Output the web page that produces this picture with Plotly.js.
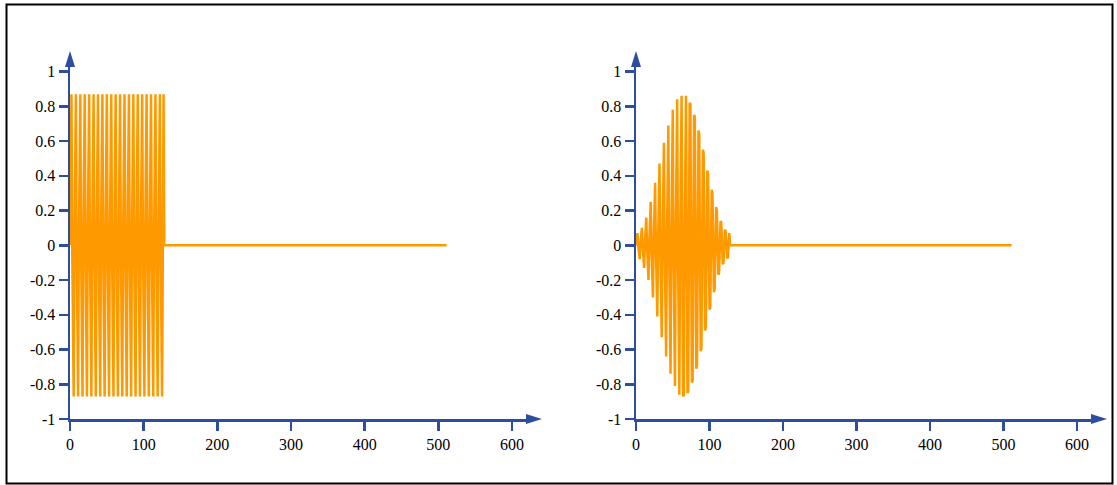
<!DOCTYPE html>
<html>
<head>
<meta charset="utf-8">
<script src="https://cdn.plot.ly/plotly-3.0.1.min.js"></script>
<style>html,body{margin:0;padding:0;background:#fff;}#chart{width:1117px;height:485px;}</style>
</head>
<body>
<div id="chart"></div>
<script>
// Sample values (n = 0..127)
const rectBurst = [
  0, 0.87, 0.87, 0, -0.87, -0.87, 0, 0.87, 0.87, 0, -0.87, -0.87,
  0, 0.87, 0.87, 0, -0.87, -0.87, 0, 0.87, 0.87, 0, -0.87, -0.87,
  0, 0.87, 0.87, 0, -0.87, -0.87, 0, 0.87, 0.87, 0, -0.87, -0.87,
  0, 0.87, 0.87, 0, -0.87, -0.87, 0, 0.87, 0.87, 0, -0.87, -0.87,
  0, 0.87, 0.87, 0, -0.87, -0.87, 0, 0.87, 0.87, 0, -0.87, -0.87,
  0, 0.87, 0.87, 0, -0.87, -0.87, 0, 0.87, 0.87, 0, -0.87, -0.87,
  0, 0.87, 0.87, 0, -0.87, -0.87, 0, 0.87, 0.87, 0, -0.87, -0.87,
  0, 0.87, 0.87, 0, -0.87, -0.87, 0, 0.87, 0.87, 0, -0.87, -0.87,
  0, 0.87, 0.87, 0, -0.87, -0.87, 0, 0.87, 0.87, 0, -0.87, -0.87,
  0, 0.87, 0.87, 0, -0.87, -0.87, 0, 0.87, 0.87, 0, -0.87, -0.87,
  0, 0.87, 0.87, 0, -0.87, -0.87, 0, 0.87
];
const windowedBurst = [
  0, 0.07, 0.07, 0, -0.08, -0.08, 0, 0.09, 0.10, 0, -0.12, -0.13,
  0, 0.15, 0.16, 0, -0.19, -0.20, 0, 0.23, 0.25, 0, -0.28, -0.30,
  0, 0.34, 0.36, 0, -0.39, -0.41, 0, 0.45, 0.47, 0, -0.51, -0.53,
  0, 0.57, 0.59, 0, -0.63, -0.64, 0, 0.68, 0.69, 0, -0.73, -0.74,
  0, 0.77, 0.78, 0, -0.80, -0.81, 0, 0.83, 0.84, 0, -0.85, -0.86,
  0, 0.86, 0.86, 0, -0.87, -0.86, 0, 0.86, 0.86, 0, -0.85, -0.84,
  0, 0.82, 0.81, 0, -0.79, -0.78, 0, 0.75, 0.74, 0, -0.71, -0.69,
  0, 0.66, 0.64, 0, -0.61, -0.59, 0, 0.55, 0.53, 0, -0.49, -0.47,
  0, 0.43, 0.41, 0, -0.37, -0.36, 0, 0.32, 0.30, 0, -0.27, -0.25,
  0, 0.22, 0.20, 0, -0.17, -0.16, 0, 0.14, 0.13, 0, -0.11, -0.10,
  0, 0.09, 0.08, 0, -0.07, -0.07, 0, 0.07
];
// zero tail after the burst
const tailX = [128, 511];
const tailY = [0, 0];

const xTicks = [0, 100, 200, 300, 400, 500, 600];
const yTickVals = [-1, -0.8, -0.6, -0.4, -0.2, 0, 0.2, 0.4, 0.6, 0.8, 1];
const yTickText = ['-1', '-0.8', '-0.6', '-0.4', '-0.2', '0', '0.2', '0.4', '0.6', '0.8', '1'];

function series(vals) {
  const x = vals.map((_, i) => i).concat(tailX);
  const y = vals.concat(tailY);
  return {x, y};
}

const orange = '#FF9900';
const axisColor = '#2D4E9C';
const tickFont = {family: '"Liberation Serif", "Times New Roman", Times, serif', size: 16, color: '#000'};
const s1 = series(rectBurst);
const s2 = series(windowedBurst);

const traces = [
  {x: s1.x, y: s1.y, type: 'scatter', mode: 'lines', line: {color: orange, width: 2.5}, xaxis: 'x', yaxis: 'y', hoverinfo: 'none'},
  {x: s2.x, y: s2.y, type: 'scatter', mode: 'lines', line: {color: orange, width: 2.5}, xaxis: 'x2', yaxis: 'y2', hoverinfo: 'none'}
];

const W = 1117, H = 485;
const xMax = 620.3, yMax = 1.032;
const plotTop = 66, plotBottom = 419;
function xAxis(d) {
  return {domain: d, range: [0, xMax], tickvals: xTicks, ticktext: xTicks.map(String),
    showline: true, linecolor: axisColor, linewidth: 2.5, ticks: 'outside', ticklen: 9, tickwidth: 2.5,
    tickcolor: axisColor, showgrid: false, zeroline: false, fixedrange: true, tickfont: tickFont};
}
function yAxis(anchor) {
  return {domain: [1 - plotBottom / H, 1 - plotTop / H], range: [-1, yMax], anchor: anchor, tickvals: yTickVals, ticktext: yTickText,
    showline: true, linecolor: axisColor, linewidth: 2.5, ticks: 'outside', ticklen: 9, tickwidth: 2.5,
    tickcolor: axisColor, showgrid: false, zeroline: false, fixedrange: true, tickfont: tickFont};
}
// arrowheads at the ends of each axis line (paper coordinates, pixel-sized)
function arrows(left, right) {
  return [
    {type: 'path', xref: 'paper', yref: 'paper', xsizemode: 'pixel', ysizemode: 'pixel',
      xanchor: right / W, yanchor: 1 - plotBottom / H,
      path: 'M-1,5 L15,0 L-1,-5 Z', fillcolor: axisColor, line: {width: 0}},
    {type: 'path', xref: 'paper', yref: 'paper', xsizemode: 'pixel', ysizemode: 'pixel',
      xanchor: left / W, yanchor: 1 - plotTop / H,
      path: 'M-5,-1 L0,15 L5,-1 Z', fillcolor: axisColor, line: {width: 0}}
  ];
}

const layout = {
  width: W, height: H,
  margin: {l: 0, r: 0, t: 0, b: 0},
  paper_bgcolor: '#fff', plot_bgcolor: 'rgba(0,0,0,0)',
  showlegend: false,
  xaxis: xAxis([70 / W, 527 / W]),
  yaxis: yAxis('x'),
  xaxis2: xAxis([636 / W, 1092 / W]),
  yaxis2: yAxis('x2'),
  shapes: [
    {type: 'rect', xref: 'paper', yref: 'paper', x0: 6.5 / W, x1: 1112.5 / W, y0: 1 - 483.5 / H, y1: 1 - 4.5 / H,
      line: {color: '#000', width: 2}, fillcolor: 'rgba(0,0,0,0)', layer: 'below'}
  ].concat(arrows(70, 527), arrows(636, 1092))
};

Plotly.newPlot('chart', traces, layout, {displayModeBar: false, staticPlot: true});
</script>
</body>
</html>
